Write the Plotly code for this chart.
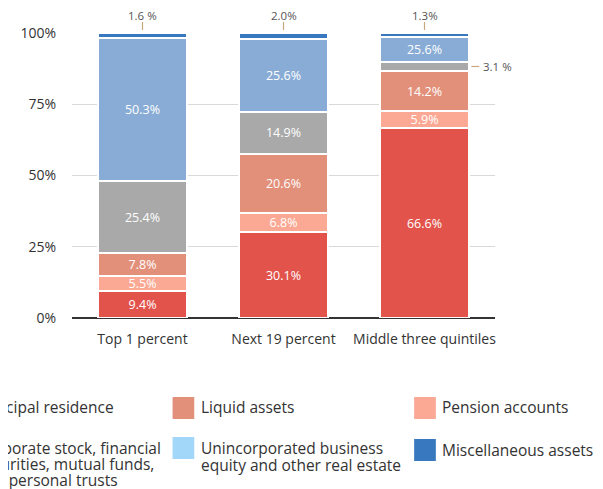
import plotly.graph_objects as go

# ---------------- data ----------------
groups = ["Top 1 percent", "Next 19 percent", "Middle three quintiles"]
series = ["Principal residence", "Pension accounts", "Liquid assets",
          "Corporate stock, financial<br>securities, mutual funds,<br>and personal trusts",
          "Unincorporated business<br>equity and other real estate", "Miscellaneous assets"]
residence = [9.4, 30.1, 66.6]
pension = [5.5, 6.8, 5.9]
liquid = [7.8, 20.6, 14.2]
corporate = [25.4, 14.9, 3.1]
unincorporated = [50.3, 25.6, 8.9]
misc = [1.6, 2.0, 1.3]
residence_lbl = ["9.4%", "30.1%", "66.6%"]
pension_lbl = ["5.5%", "6.8%", "5.9%"]
liquid_lbl = ["7.8%", "20.6%", "14.2%"]
corporate_lbl = ["25.4%", "14.9%", ""]
unincorporated_lbl = ["50.3%", "25.6%", "25.6%"]
misc_lbl = ["", "", ""]
top_lbl = ["1.6 %", "2.0%", "1.3%"]
side_lbl = "3.1 %"
y_ticks = [0, 25, 50, 75, 100]
y_tick_text = ["0%", "25%", "50%", "75%", "100%"]

colors = ["#e2534b", "#fba994", "#e3907b", "#a9a9a9", "#88acd5", "#3778bf"]
legend_colors = ["#e2534b", "#fba994", "#e3907b", "#a9a9a9", "#a2d7f9", "#3778bf"]

OFF = 8                      # page body margin
SW, SH = 603, 489            # screen size
L, R, T, B = 66, 495, 33, 318  # plot area in screen pixels
FONT = "Open Sans"

def px(x):
    return (x - L) / (R - L)

def py(y):
    return 1 - (y - T) / (B - T)

fig = go.Figure()
vals = [residence, pension, liquid, corporate, unincorporated, misc]
lbls = [residence_lbl, pension_lbl, liquid_lbl, corporate_lbl, unincorporated_lbl, misc_lbl]
xs = list(range(len(groups)))
for name, v, lb, c in zip(series, vals, lbls, colors):
    fig.add_trace(go.Bar(
        x=xs, y=v, name=name, text=lb, marker=dict(color=c, line=dict(color="white", width=2)),
        width=0.63, textposition="inside", insidetextanchor="middle", textangle=0,
        constraintext="none", textfont=dict(color="white", size=12.5, family=FONT),
        hoverinfo="skip", showlegend=False))

shapes = []
annotations = []
# top labels (miscellaneous assets)
for i, t in enumerate(top_lbl):
    shapes.append(dict(type="line", xref="x", yref="paper", x0=i, x1=i,
                       y0=py(30), y1=py(22), line=dict(color="#c9a77f", width=1.2)))
    annotations.append(dict(xref="x", yref="paper", x=i, y=py(15), yanchor="middle", text=t,
                            showarrow=False, font=dict(size=11.5, color="#555", family=FONT)))
# side label for small corporate segment in third bar
ymid = residence[2] + pension[2] + liquid[2] + corporate[2] / 2
shapes.append(dict(type="line", xref="paper", yref="y", x0=px(471), x1=px(479),
                   y0=ymid, y1=ymid, line=dict(color="#c9a77f", width=1.2)))
annotations.append(dict(xref="paper", yref="y", x=px(481), y=ymid, xanchor="left",
                        yanchor="middle", text=side_lbl,
                        showarrow=False, font=dict(size=11.5, color="#555", family=FONT)))

# custom legend (3 columns, cut at the left edge like the reference)
leg_swatch = [(-60, 397), (413, 397), (168, 397), (-60, 437), (168, 437), (413, 439)]
leg_text_x = [-32, 439, 195, -32, 195, 439]
leg_text_y = [[407], [407], [407], [448, 464, 480], [448, 465], [450]]
for (sx, sy), tx, tys, name, c in zip(leg_swatch, leg_text_x, leg_text_y, series, legend_colors):
    shapes.append(dict(type="rect", xref="paper", yref="paper", x0=px(sx), x1=px(sx + 22),
                       y0=py(sy + 22), y1=py(sy), fillcolor=c, line=dict(width=0)))
    for line, ty in zip(name.split("<br>"), tys):
        annotations.append(dict(xref="paper", yref="paper", x=px(tx), y=py(ty),
                                xanchor="left", yanchor="middle", text=line,
                                showarrow=False, font=dict(size=15.5, color="#333", family=FONT)))

fig.update_layout(
    barmode="stack", width=SW - OFF, height=SH - OFF,
    margin=dict(l=L - OFF, r=SW - R, t=T - OFF, b=SH - B),
    plot_bgcolor="white", paper_bgcolor="white",
    font=dict(family=FONT, color="#333"),
    xaxis=dict(range=[-0.5, 2.5], tickvals=xs, ticktext=groups, showgrid=False,
               showline=False, zeroline=False, ticks="", ticklabelstandoff=11,
               tickfont=dict(size=14, color="#333")),
    yaxis=dict(range=[0, 100], tickvals=y_ticks, ticktext=y_tick_text, showgrid=True,
               gridcolor="#d9d9d9", gridwidth=1, zeroline=True, zerolinecolor="#333",
               zerolinewidth=1.5, ticks="", ticklabelstandoff=15,
               tickfont=dict(size=14, color="#333")),
    shapes=shapes, annotations=annotations, showlegend=False,
)
fig.write_html("out.html")
